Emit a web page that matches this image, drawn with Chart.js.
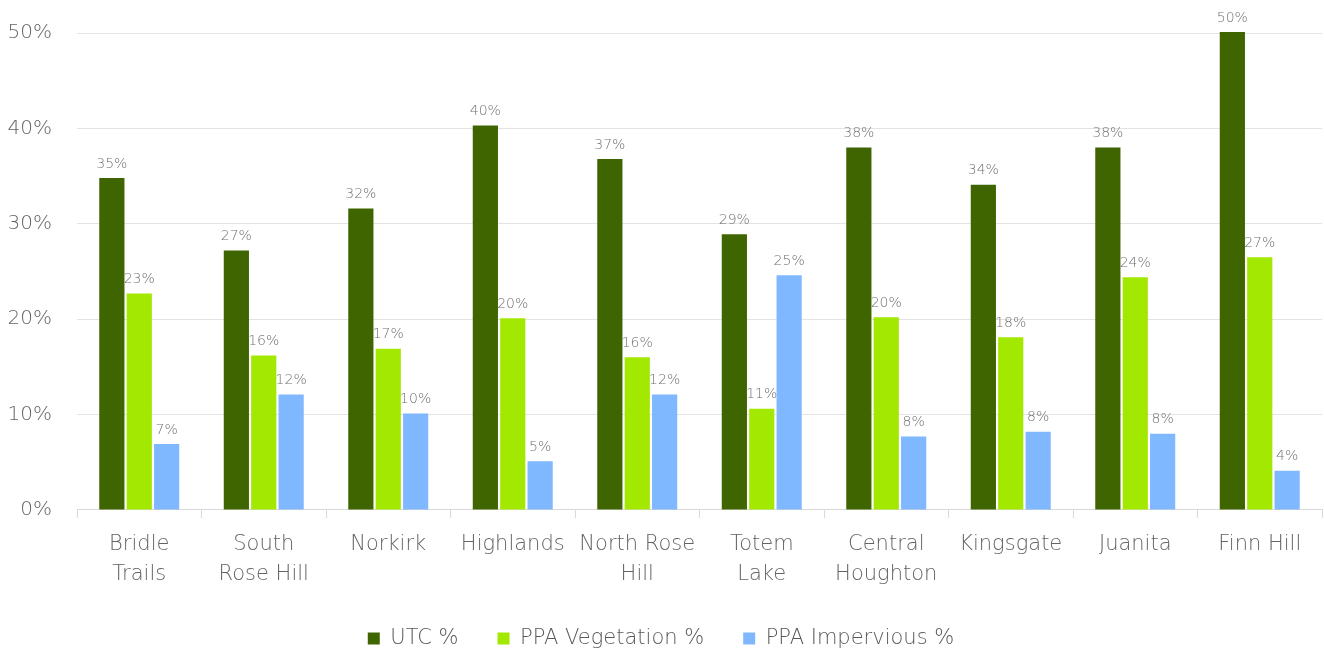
<!DOCTYPE html>
<html>
<head>
<meta charset="utf-8">
<script src="https://cdn.jsdelivr.net/npm/chart.js@4/dist/chart.umd.min.js"></script>
<style>
    html, body { margin: 0; padding: 0; background: #ffffff; }
    #wrap { width: 1324px; height: 652px; position: relative; }
</style>
</head>
<body>
<div id="wrap"><canvas id="utcChart"></canvas></div>
<script>
const neighborhoods = [
    ["Bridle", "Trails"], ["South", "Rose Hill"], "Norkirk", "Highlands", ["North Rose", "Hill"],
    ["Totem", "Lake"], ["Central", "Houghton"], "Kingsgate", "Juanita", "Finn Hill"
];
const utcValues = [0.348, 0.272, 0.316, 0.403, 0.368, 0.289, 0.380, 0.341, 0.380, 0.501];
const vegetationValues = [0.227, 0.162, 0.169, 0.201, 0.160, 0.106, 0.202, 0.181, 0.244, 0.265];
const imperviousValues = [0.069, 0.121, 0.101, 0.051, 0.121, 0.246, 0.077, 0.082, 0.080, 0.041];
const seriesNames = ["UTC %", "PPA Vegetation %", "PPA Impervious %"];
const seriesColors = ["#3f6500", "#a3e800", "#7fb8ff"];

const FONT = "'DejaVu Sans', sans-serif";

// draws the value above each bar
const barLabels = {
    id: "barLabels",
    afterDatasetsDraw(chart) {
        const ctx = chart.ctx;
        ctx.save();
        ctx.font = `200 14px ${FONT}`;
        ctx.fillStyle = "#707070";
        ctx.textAlign = "center";
        ctx.textBaseline = "bottom";
        chart.data.datasets.forEach((dataset, i) => {
            chart.getDatasetMeta(i).data.forEach((bar, j) => {
                ctx.fillText(`${Math.round(dataset.data[j] * 100)}%`, bar.x, bar.y - 7);
            });
        });
        ctx.restore();
    }
};

// wider gaps between legend items without a taller legend box
const legendHeight = {
    id: "legendHeight",
    beforeInit(chart) {
        const legend = chart.legend;
        const fit = legend.fit;
        const draw = legend.draw;
        legend.fit = function () {
            fit.call(this);
            this.height -= 14;
        };
        legend.draw = function () {
            const top = this.top;
            this.top = top - 13;
            draw.call(this);
            this.top = top;
        };
    }
};

const allSeries = [utcValues, vegetationValues, imperviousValues];

new Chart(document.getElementById("utcChart"), {
    type: "bar",
    data: {
        labels: neighborhoods,
        datasets: allSeries.map((values, i) => ({
            label: seriesNames[i],
            data: values,
            backgroundColor: seriesColors[i],
            borderWidth: 0,
            categoryPercentage: 0.66,
            barPercentage: 0.92,
            clip: false
        }))
    },
    options: {
        responsive: true,
        maintainAspectRatio: false,
        animation: false,
        layout: { padding: { top: 33, right: 2, left: 0, bottom: -6 } },
        plugins: {
            legend: {
                position: "bottom",
                labels: {
                    font: { family: FONT, size: 21, weight: 200 },
                    color: "#595959",
                    boxWidth: 12,
                    boxHeight: 12,
                    padding: 39
                }
            },
            tooltip: { enabled: false }
        },
        scales: {
            x: {
                grid: {
                    display: true,
                    drawOnChartArea: false,
                    drawTicks: true,
                    tickLength: 8,
                    color: "#d9d9d9",
                    offset: true
                },
                border: { color: "#d9d9d9", width: 1 },
                ticks: {
                    font: { family: FONT, size: 21, weight: 200, lineHeight: 1.43 },
                    color: "#646464",
                    maxRotation: 0,
                    autoSkip: false,
                    padding: 12
                }
            },
            y: {
                min: 0,
                max: 0.5,
                afterFit: scale => {
                    scale.width = 77;
                    scale.paddingTop = 0;
                    scale.paddingBottom = 0;
                },
                grid: { color: "#e3e3e3", drawTicks: false },
                border: { display: false },
                ticks: {
                    stepSize: 0.1,
                    padding: 25,
                    font: { family: FONT, size: 20, weight: 200 },
                    color: "#646464",
                    callback: value => `${Math.round(value * 100)}%`
                }
            }
        }
    },
    plugins: [barLabels, legendHeight]
});
</script>
</body>
</html>
